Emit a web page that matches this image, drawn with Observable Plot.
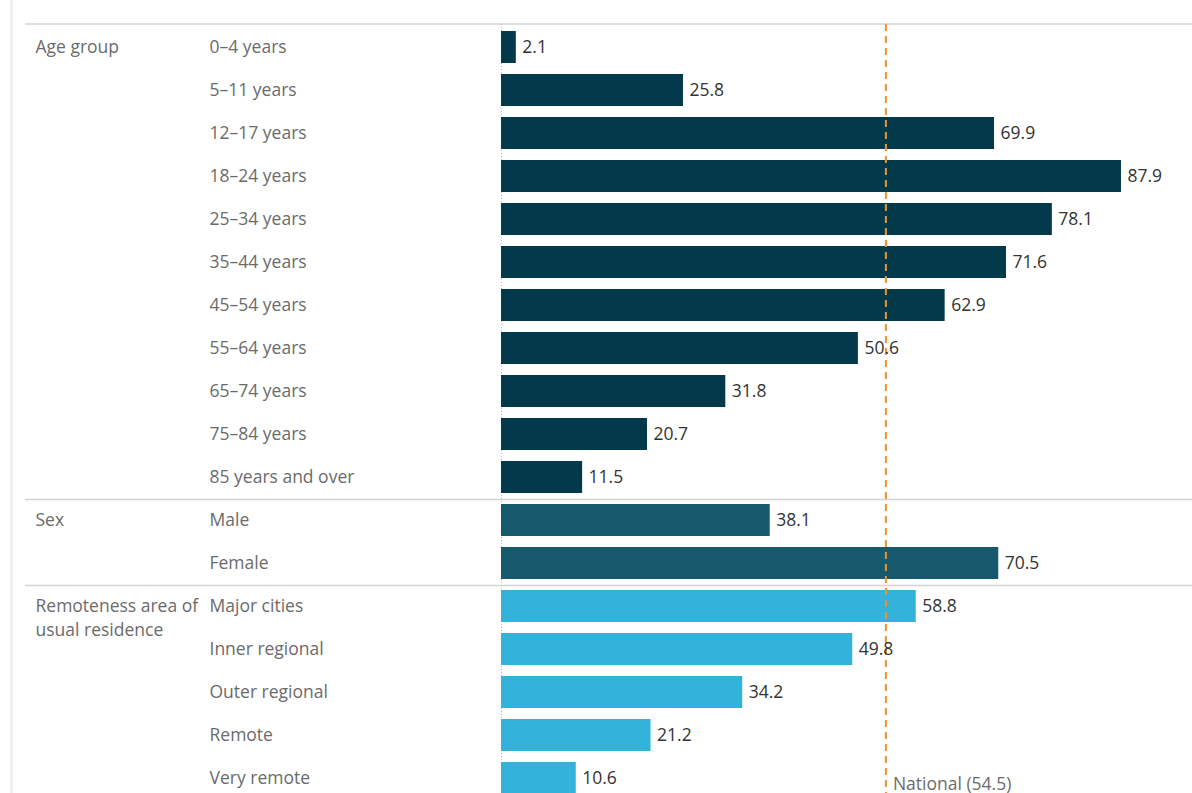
<!DOCTYPE html>
<html>
<head>
<meta charset="utf-8">
<script src="https://cdn.jsdelivr.net/npm/d3@7"></script>
<script src="https://cdn.jsdelivr.net/npm/@observablehq/plot@0.6"></script>
<style>
  html, body { margin: 0; padding: 0; background: #fff; overflow: hidden; }
  #chart { position: relative; width: 1192px; height: 793px; }
  #chart svg { display: block; }
</style>
</head>
<body>
<div id="chart"></div>
<script>
// ---- data ----
const groups = ["Age group", "Sex", "Remoteness area of usual residence"];
const ageLabels = ["0–4 years", "5–11 years", "12–17 years", "18–24 years", "25–34 years", "35–44 years", "45–54 years", "55–64 years", "65–74 years", "75–84 years", "85 years and over"];
const ageValues = [2.1, 25.8, 69.9, 87.9, 78.1, 71.6, 62.9, 50.6, 31.8, 20.7, 11.5];
const sexLabels = ["Male", "Female"];
const sexValues = [38.1, 70.5];
const remoteLabels = ["Major cities", "Inner regional", "Outer regional", "Remote", "Very remote"];
const remoteValues = [58.8, 49.8, 34.2, 21.2, 10.6];
const nationalValue = 54.5;
const nationalLabel = "National (54.5)";
const groupColors = ["#023a4b", "#175a6e", "#33b3dc"];

// ---- build table ----
const rows = [];
[[ageLabels, ageValues], [sexLabels, sexValues], [remoteLabels, remoteValues]].forEach(([labs, vals], gi) => {
  labs.forEach((l, i) => rows.push({group: groups[gi], label: l, value: vals[i], first: i === 0, last: i === labs.length - 1}));
});
const order = rows.map(d => d.label);
const firsts = rows.filter(d => d.first);
const lasts = rows.filter(d => d.last && d.group !== groups[groups.length - 1]);

const W = 1192, H = 793;
const font = "'Open Sans', Lato, sans-serif";
const fs = 17.5;

const chart = Plot.plot({
  width: W,
  height: H,
  marginLeft: 501,
  marginRight: 0,
  marginTop: 24,
  marginBottom: 0,
  style: {fontFamily: font, fontSize: fs + "px", background: "white", overflow: "hidden"},
  x: {domain: [0, 97.97], axis: null},
  y: {domain: order, range: [23.5, 801], paddingInner: 0.26, paddingOuter: 0.13, axis: null},
  color: {domain: groups, range: groupColors},
  marks: [
    // zero line (dotted)
    Plot.ruleX([0], {stroke: "#bbb", strokeWidth: 1, strokeDasharray: "1,2"}),
    // bars
    Plot.barX(rows, {y: "label", x: "value", fill: "group"}),
    // national line
    Plot.ruleX([nationalValue], {stroke: "#f0922b", strokeWidth: 2, strokeDasharray: "7,5"}),
    // value labels
    Plot.text(rows, {y: "label", x: "value", text: d => d.value.toFixed(1), textAnchor: "start", dx: 6, fill: "#333", fontSize: fs}),
    // category labels
    Plot.text(rows, {y: "label", text: "label", frameAnchor: "left", textAnchor: "start", dx: -292, fill: "#6b6b6b", fontSize: fs}),
    // group labels
    Plot.text(firsts, {y: "label", text: "group", frameAnchor: "left", textAnchor: "start", lineAnchor: "top", dx: -466, dy: -12, lineWidth: 11.8, lineHeight: 1.4, fill: "#6b6b6b", fontSize: fs}),
    Plot.text([nationalLabel], {x: [nationalValue], frameAnchor: "bottom", textAnchor: "start", lineAnchor: "bottom", dx: 7, dy: -4, fill: "#6b6b6b", fontSize: fs})
  ]
});

// Tableau-like frame lines, drawn in a separate overlay
const svg = d3.select(chart);
const ov = svg.insert("g", ":first-child");
ov.append("rect").attr("x", 10).attr("y", 0).attr("width", 3).attr("height", H).attr("fill", "#f0f0f0");
ov.append("line").attr("x1", 25).attr("x2", W).attr("y1", 24).attr("y2", 24).attr("stroke", "#d4d4d4").attr("stroke-width", 1.5);
const step = (801 - 23.5) / order.length;
lasts.forEach(d => {
  const i = order.indexOf(d.label);
  const yy = Math.round(23.5 + (i + 1) * step) + 0.5;
  ov.append("line").attr("x1", 25).attr("x2", W).attr("y1", yy).attr("y2", yy).attr("stroke", "#d4d4d4").attr("stroke-width", 1.5);
});

document.getElementById("chart").appendChild(chart);
</script>
</body>
</html>
